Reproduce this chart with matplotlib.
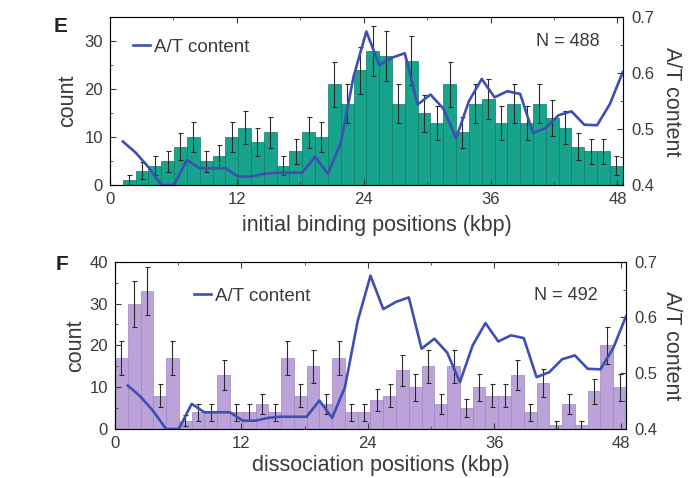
import numpy as np
import matplotlib
matplotlib.use("Agg")
from matplotlib import pyplot as plt
from matplotlib.ticker import MultipleLocator

plt.rcParams['font.family'] = ['Liberation Sans', 'DejaVu Sans']
TEXT = '#3a3a3a'
plt.rcParams['text.color'] = TEXT
plt.rcParams['axes.labelcolor'] = TEXT
plt.rcParams['xtick.color'] = TEXT
plt.rcParams['ytick.color'] = TEXT

# lambda DNA, 40 bins of 1.2125 kbp
GENOME_KBP = 48.5
N_BINS = 40

# panel E: initial binding positions
countsE = [0, 1, 3, 4, 5, 8, 10, 5, 6, 10, 12, 9, 11, 4, 7, 11, 10, 21, 17, 24,
           28, 27, 17, 26, 15, 13, 21, 11, 17, 18, 13, 17, 13, 17, 14, 12, 8, 7, 7, 4]
errE = [0, 1, 1.7, 2, 2.2, 2.8, 3.2, 2.2, 2.4, 3.2, 3.5, 3, 3.3, 2, 2.6, 3.3, 3.2, 4.6, 4.1, 4.9,
        5.3, 5.2, 4.1, 5.1, 3.9, 3.6, 4.6, 3.3, 4.1, 4.2, 3.6, 4.1, 3.6, 4.1, 3.7, 3.5, 2.8, 2.6, 2.6, 2]

# panel F: dissociation positions
countsF = [17, 30, 33, 8, 17, 2, 4, 4, 13, 4, 4, 6, 4, 17, 8, 15, 6, 17, 4, 4,
           7, 8, 14, 10, 15, 6, 15, 5, 10, 8, 8, 13, 4, 11, 1, 6, 1, 9, 20, 10]
errF = [4.1, 5.5, 5.7, 2.8, 4.1, 1.4, 2, 2, 3.6, 2, 2, 2.4, 2, 4.1, 2.8, 3.9, 2.4, 4.1, 2, 2,
        2.6, 2.8, 3.7, 3.2, 3.9, 2.4, 3.9, 2.2, 3.2, 2.8, 2.8, 3.6, 2, 3.3, 1, 2.4, 1, 3, 4.5, 3.2]

# A/T content, one value per bin (at right bin edge)
atContent = [0.478, 0.458, 0.432, 0.400, 0.400, 0.445, 0.430, 0.430, 0.430, 0.415,
             0.415, 0.420, 0.422, 0.422, 0.422, 0.451, 0.420, 0.475, 0.594, 0.675,
             0.615, 0.628, 0.636, 0.544, 0.562, 0.537, 0.484, 0.550, 0.590, 0.557,
             0.568, 0.563, 0.493, 0.502, 0.525, 0.532, 0.508, 0.507, 0.545, 0.602]

xTicks = [0, 12, 24, 36, 48]

binW = GENOME_KBP / N_BINS
left = np.arange(N_BINS) * binW
centers = left + binW / 2
atPos = left + binW


def panel(rect, counts, err, color, edge, ymax, ytick, xlabel, nText, letter,
          legX, legY, nX, nY, xlabY, letX, letY, ylabX, rlabX):
    ax = fig.add_axes(rect)
    ax.bar(left, counts, width=binW, align='edge', color=color,
           edgecolor=edge, linewidth=0.5)
    c = np.array(counts)
    e = np.array(err)
    m = c > 0
    ax.errorbar(centers[m], c[m], yerr=e[m], fmt='none', ecolor='#2a2a2a',
                elinewidth=0.8, capsize=1.8, capthick=0.8)
    ax.set_xlim(0, GENOME_KBP)
    ax.set_ylim(0, ymax)
    ax.set_xticks(xTicks)
    ax.xaxis.set_minor_locator(MultipleLocator(6))
    ax.yaxis.set_major_locator(MultipleLocator(ytick))
    ax.yaxis.set_minor_locator(MultipleLocator(ytick / 2))
    ax.tick_params(which='both', direction='in', top=True, labelsize=12, pad=5)
    ax.tick_params(which='major', length=4)
    ax.tick_params(which='minor', length=2.5)
    for s in ax.spines.values():
        s.set_color('#555555')
    ax.set_ylabel('count', fontsize=15.5, va='center')
    ax.yaxis.set_label_coords(ylabX, 0.5)
    ax.set_xlabel(xlabel, fontsize=15.5, va='center')
    ax.xaxis.set_label_coords(0.52, xlabY)
    ax.text(nX, nY, nText, transform=ax.transAxes, ha='right', va='center',
            fontsize=13)
    ax.text(letX, letY, letter, transform=ax.transAxes, ha='right', va='top',
            fontsize=15, fontweight='bold', color='#222222')

    tw = ax.twinx()
    tw.plot(atPos, atContent, color='#3e4fb3', linewidth=1.9, label='A/T content')
    tw.set_ylim(0.4, 0.7)
    tw.yaxis.set_major_locator(MultipleLocator(0.1))
    tw.yaxis.set_minor_locator(MultipleLocator(0.05))
    tw.tick_params(which='both', direction='in', labelsize=12, pad=6)
    tw.tick_params(which='major', length=4)
    tw.tick_params(which='minor', length=2.5)
    tw.set_ylabel('A/T content', fontsize=15.5, rotation=270, va='center')
    tw.yaxis.set_label_coords(rlabX, 0.5)
    tw.legend(loc='center left', bbox_to_anchor=(legX, legY), frameon=False,
              fontsize=13.5, handlelength=0.9, handletextpad=0.2, borderpad=0,
              borderaxespad=0)
    return ax


fig = plt.figure(figsize=(6.94, 4.78), dpi=100)

panel([0.1585, 0.613, 0.7388, 0.3504], countsE, errE, '#17a38c', '#0d7a68', 35, 10,
      'initial binding positions (kbp)', 'N = 488', 'E',
      0.045, 0.824, 0.955, 0.854, -0.24, -0.082, 1.0, -0.082, 1.095)
panel([0.1657, 0.1025, 0.7363, 0.35], countsF, errF, '#bba3d9', '#9d86c0', 40, 10,
      'dissociation positions (kbp)', 'N = 492', 'F',
      0.155, 0.795, 0.945, 0.80, -0.22, -0.092, 1.04, -0.078, 1.09)

fig.savefig('out.png', dpi=100)
